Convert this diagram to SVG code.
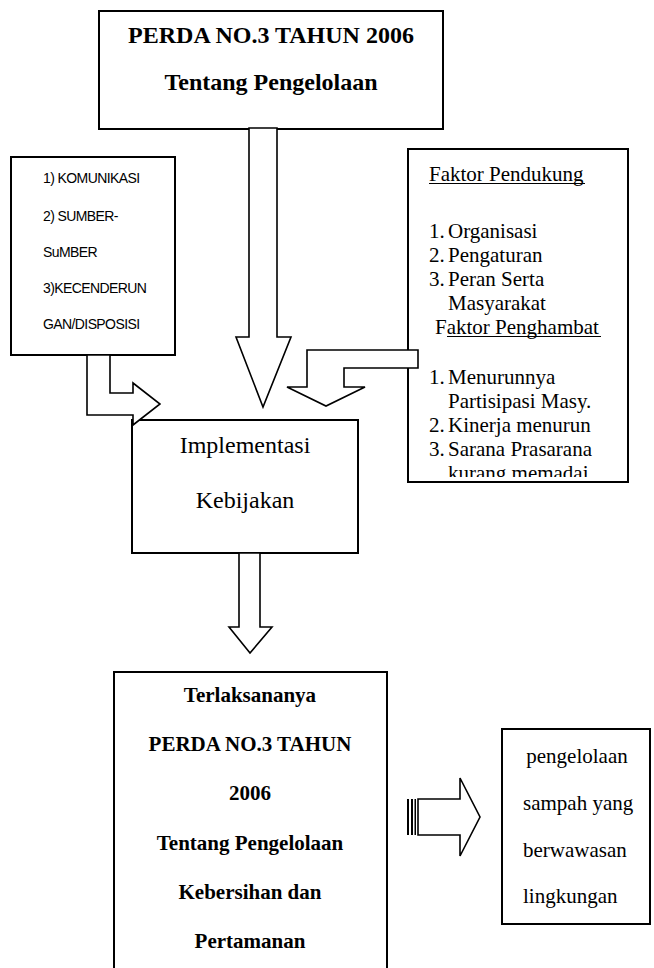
<svg xmlns="http://www.w3.org/2000/svg" width="654" height="968" viewBox="0 0 654 968">
<style>
.box{fill:#fff;stroke:#000;stroke-width:2}
.arr{fill:#fff;stroke:#000;stroke-width:1.6;stroke-linejoin:miter}
.tb{font-family:"Liberation Serif","Times New Roman",serif;font-weight:bold;fill:#000}
.tr{font-family:"Liberation Serif","Times New Roman",serif;fill:#000;font-size:21px}
.ta{font-family:"Liberation Sans",Arial,sans-serif;fill:#000;font-size:14px;letter-spacing:-0.6px}
</style>
<defs>
<clipPath id="clipF"><rect x="408" y="149" width="220" height="328"/></clipPath>
</defs>
<g id="perda">
<rect class="box" x="99" y="11" width="344" height="118"/>
<text class="tb" x="271" y="43" font-size="24" text-anchor="middle">PERDA NO.3 TAHUN 2006</text>
<text class="tb" x="271" y="90" font-size="24" text-anchor="middle">Tentang Pengelolaan</text>
</g>
<g id="faktor-komunikasi">
<rect class="box" x="11" y="157" width="164" height="198"/>
<text class="ta" x="43" y="183">1) KOMUNIKASI</text>
<text class="ta" x="43" y="221">2) SUMBER-</text>
<text class="ta" x="43" y="257">SuMBER</text>
<text class="ta" x="43" y="293">3)KECENDERUN</text>
<text class="ta" x="43" y="329">GAN/DISPOSISI</text>
</g>
<g id="faktor">
<rect class="box" x="408" y="149" width="220" height="333"/>
<g clip-path="url(#clipF)">
<text class="tr" x="429" y="181">Faktor Pendukung</text>
<line x1="429" y1="183.5" x2="585" y2="183.5" stroke="#000" stroke-width="1"/>
<text class="tr" x="429" y="238">1.</text><text class="tr" x="448" y="238">Organisasi</text>
<text class="tr" x="429" y="262">2.</text><text class="tr" x="448" y="262">Pengaturan</text>
<text class="tr" x="429" y="286">3.</text><text class="tr" x="448" y="286">Peran Serta</text>
<text class="tr" x="448" y="310">Masyarakat</text>
<text class="tr" x="435" y="334">Faktor Penghambat</text>
<line x1="447" y1="336.5" x2="601" y2="336.5" stroke="#000" stroke-width="1"/>
<text class="tr" x="429" y="384">1.</text><text class="tr" x="448" y="384">Menurunnya</text>
<text class="tr" x="448" y="408">Partisipasi Masy.</text>
<text class="tr" x="429" y="432">2.</text><text class="tr" x="448" y="432">Kinerja menurun</text>
<text class="tr" x="429" y="456">3.</text><text class="tr" x="448" y="456">Sarana Prasarana</text>
<text class="tr" x="448" y="480">kurang memadai</text>
</g>
</g>
<g id="implementasi">
<rect class="box" x="132" y="420" width="226" height="133"/>
<text class="tr" x="245" y="453" text-anchor="middle" style="font-size:24px">Implementasi</text>
<text class="tr" x="245" y="508" text-anchor="middle" style="font-size:24px">Kebijakan</text>
</g>
<g id="terlaksana">
<rect class="box" x="114" y="672" width="273" height="310"/>
<text class="tb" x="250" y="702" font-size="21" text-anchor="middle">Terlaksananya</text>
<text class="tb" x="250" y="751" font-size="21" text-anchor="middle">PERDA NO.3 TAHUN</text>
<text class="tb" x="250" y="800" font-size="21" text-anchor="middle">2006</text>
<text class="tb" x="250" y="850" font-size="21" text-anchor="middle">Tentang Pengelolaan</text>
<text class="tb" x="250" y="899" font-size="21" text-anchor="middle">Kebersihan dan</text>
<text class="tb" x="250" y="948" font-size="21" text-anchor="middle">Pertamanan</text>
</g>
<g id="hasil">
<rect class="box" x="502" y="729" width="148" height="195"/>
<text class="tr" x="577" y="763" text-anchor="middle">pengelolaan</text>
<text class="tr" x="523" y="810">sampah yang</text>
<text class="tr" x="523" y="857">berwawasan</text>
<text class="tr" x="523" y="903">lingkungan</text>
</g>
<g id="connectors">
<polygon class="arr" points="249,128 277,128 277,337 291,337 263,407 236,337 249,337"/>
<polygon class="arr" points="87,355 110,355 110,393 133,393 133,383 160,404 133,425 133,415 87,415"/>
<polygon class="arr" points="418,350 418,368 344,368 344,387 365,387 326,406 287,387 307,387 307,350"/>
<polygon class="arr" points="239,553 260,553 260,627 272,627 250,653 229,627 239,627"/>
<rect x="407" y="799" width="2" height="36" fill="#000"/>
<rect x="411" y="799" width="2" height="36" fill="#000"/>
<rect x="414.5" y="799" width="1.5" height="36" fill="#000"/>
<polygon class="arr" points="418,799 460,799 460,778 480,817 460,856 460,835 418,835"/>
</g>
</svg>
